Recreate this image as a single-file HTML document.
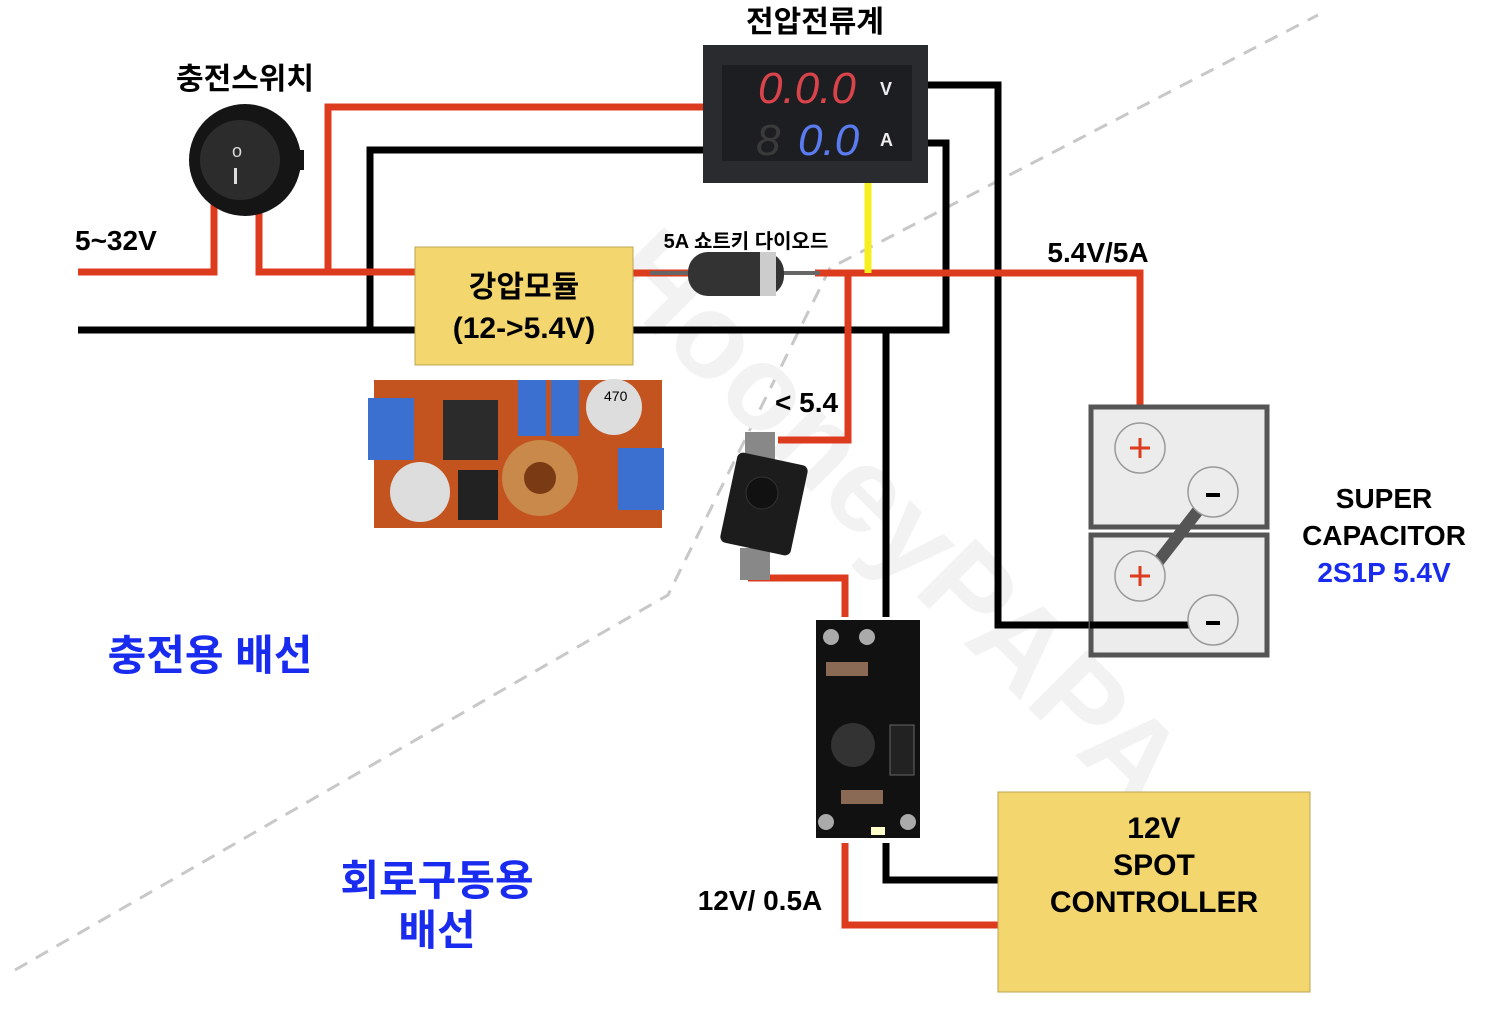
<!DOCTYPE html>
<html><head><meta charset="utf-8"><style>
html,body{margin:0;padding:0;background:#fff;}
svg{display:block;}
text{font-family:"Liberation Sans","Noto Sans CJK KR",sans-serif;font-weight:bold;}
</style></head><body>
<svg width="1500" height="1009" viewBox="0 0 1500 1009" xmlns="http://www.w3.org/2000/svg">
<!-- dashed guide -->
<polyline points="15,970 668,595 830,268 1318,15" fill="none" stroke="#c8c8c8" stroke-width="3" stroke-dasharray="14,10"/>
<!-- watermark -->
<text x="600" y="280" font-size="120" fill="#f2f2f2" transform="rotate(45 600 280)" style="font-weight:bold">HooneyPAPA</text>

<!-- black wires -->
<g stroke="#000" stroke-width="7" fill="none">
<polyline points="78,330 946,330 946,143 925,143"/>
<polyline points="370,330 370,150 705,150"/>
<polyline points="925,85 998,85 998,625 1190,625"/>
<polyline points="886,330 886,617"/>
<polyline points="886,843 886,880 998,880"/>
</g>
<!-- red wires -->
<g stroke="#dc3b1e" stroke-width="7" fill="none">
<polyline points="78,272 214,272 214,192"/>
<polyline points="259,192 259,272 415,272"/>
<polyline points="328,272 328,107 705,107"/>
<polyline points="633,273 690,273"/>
<polyline points="815,273 1140,273 1140,425"/>
<polyline points="848,273 848,440 778,440"/>
<polyline points="748,578 845,578 845,617"/>
<polyline points="845,843 845,925 998,925"/>
</g>
<line x1="868" y1="183" x2="868" y2="273" stroke="#f5ef1e" stroke-width="7"/>

<!-- meter -->
<rect x="703" y="45" width="225" height="138" fill="#2a2b2f"/>
<rect x="722" y="65" width="190" height="96" fill="#1d1e22"/>
<text x="758" y="103" font-size="44" fill="#d9434a" style="font-weight:normal;font-style:italic">0.0.0</text>
<text x="756" y="155" font-size="44" fill="#3a3a3a" style="font-weight:normal;font-style:italic">8</text>
<text x="798" y="155" font-size="44" fill="#5a7cf0" style="font-weight:normal;font-style:italic">0.0</text>
<text x="880" y="95" font-size="18" fill="#eee">V</text>
<text x="880" y="146" font-size="18" fill="#eee">A</text>
<text x="815" y="32" font-size="30" fill="#000" text-anchor="middle">전압전류계</text>

<!-- switch -->
<circle cx="245" cy="160" r="56" fill="#151515"/>
<rect x="290" y="150" width="14" height="20" fill="#151515"/>
<circle cx="240" cy="160" r="40" fill="#2c2c2c"/>
<text x="237" y="157" font-size="18" fill="#ddd" text-anchor="middle" style="font-weight:normal">o</text>
<rect x="234" y="168" width="3" height="16" fill="#ddd"/>
<text x="245" y="89" font-size="30" fill="#000" text-anchor="middle">충전스위치</text>
<text x="75" y="250" font-size="28" fill="#000">5~32V</text>

<!-- buck module -->
<rect x="415" y="247" width="218" height="118" fill="#f3d76e" stroke="#bba555" stroke-width="1"/>
<text x="524" y="297" font-size="30" fill="#000" text-anchor="middle">강압모듈</text>
<text x="524" y="338" font-size="30" fill="#000" text-anchor="middle">(12-&gt;5.4V)</text>

<!-- buck pcb -->
<rect x="374" y="380" width="288" height="148" fill="#c4541f"/>
<rect x="368" y="398" width="46" height="62" fill="#3b6fd0"/>
<rect x="618" y="448" width="46" height="62" fill="#3b6fd0"/>
<rect x="443" y="400" width="55" height="60" fill="#2b2b2b"/>
<rect x="518" y="380" width="28" height="56" fill="#3b6fd0"/>
<rect x="551" y="380" width="28" height="56" fill="#3b6fd0"/>
<circle cx="614" cy="407" r="28" fill="#ddd"/>
<text x="604" y="401" font-size="14" fill="#000" style="font-weight:normal">470</text>
<circle cx="420" cy="492" r="30" fill="#ddd"/>
<circle cx="540" cy="478" r="38" fill="#c9894a"/>
<circle cx="540" cy="478" r="16" fill="#7a3a14"/>
<rect x="458" y="470" width="40" height="50" fill="#222"/>

<!-- diode -->
<line x1="650" y1="273" x2="820" y2="273" stroke="#666" stroke-width="4"/>
<rect x="688" y="252" width="96" height="44" rx="20" fill="#333"/>
<rect x="760" y="252" width="16" height="44" fill="#ccc"/>
<text x="746" y="248" font-size="20" fill="#000" text-anchor="middle">5A 쇼트키 다이오드</text>
<text x="1098" y="262" font-size="28" fill="#000" text-anchor="middle">5.4V/5A</text>

<!-- push button -->
<rect x="745" y="432" width="30" height="30" fill="#888"/>
<rect x="740" y="548" width="30" height="32" fill="#888"/>
<rect x="728" y="458" width="72" height="92" rx="6" fill="#1c1c1c" transform="rotate(12 764 504)"/>
<circle cx="762" cy="493" r="16" fill="#111" stroke="#333"/>
<text x="775" y="412" font-size="28" fill="#000">&lt; 5.4</text>

<!-- boost pcb -->
<rect x="816" y="620" width="104" height="218" fill="#111"/>
<circle cx="831" cy="637" r="8" fill="#aaa"/><circle cx="867" cy="637" r="8" fill="#aaa"/>
<circle cx="826" cy="822" r="8" fill="#aaa"/><circle cx="908" cy="822" r="8" fill="#aaa"/>
<rect x="826" y="662" width="42" height="14" fill="#8a6a55"/>
<rect x="841" y="790" width="42" height="14" fill="#8a6a55"/>
<circle cx="853" cy="745" r="22" fill="#333"/>
<rect x="890" y="725" width="24" height="50" fill="#222" stroke="#666"/>
<rect x="871" y="827" width="14" height="8" fill="#ffffcc"/>

<text x="760" y="910" font-size="28" fill="#000" text-anchor="middle">12V/ 0.5A</text>

<!-- supercap -->
<rect x="1091" y="407" width="176" height="120" fill="#ececec" stroke="#555" stroke-width="5"/>
<rect x="1091" y="535" width="176" height="120" fill="#ececec" stroke="#555" stroke-width="5"/>
<line x1="1200" y1="508" x2="1158" y2="562" stroke="#555" stroke-width="12"/>
<line x1="1090" y1="625" x2="1190" y2="625" stroke="#000" stroke-width="7"/>
<g fill="#ececec" stroke="#999" stroke-width="1.5">
<circle cx="1140" cy="448" r="25"/><circle cx="1213" cy="492" r="25"/>
<circle cx="1140" cy="576" r="25"/><circle cx="1213" cy="620" r="25"/>
</g>
<g stroke="#dc3b1e" stroke-width="3"><line x1="1130" y1="448" x2="1150" y2="448"/><line x1="1140" y1="438" x2="1140" y2="458"/>
<line x1="1130" y1="576" x2="1150" y2="576"/><line x1="1140" y1="566" x2="1140" y2="586"/></g>
<g stroke="#000" stroke-width="4"><line x1="1206" y1="495" x2="1220" y2="495"/><line x1="1206" y1="623" x2="1220" y2="623"/></g>
<text x="1384" y="508" font-size="28" fill="#000" text-anchor="middle">SUPER</text>
<text x="1384" y="545" font-size="28" fill="#000" text-anchor="middle">CAPACITOR</text>
<text x="1384" y="582" font-size="28" fill="#1a2bf0" text-anchor="middle">2S1P 5.4V</text>

<!-- controller -->
<rect x="998" y="792" width="312" height="200" fill="#f3d76e" stroke="#bba555" stroke-width="1"/>
<text x="1154" y="838" font-size="30" fill="#000" text-anchor="middle">12V</text>
<text x="1154" y="875" font-size="30" fill="#000" text-anchor="middle">SPOT</text>
<text x="1154" y="912" font-size="30" fill="#000" text-anchor="middle">CONTROLLER</text>

<text x="210" y="670" font-size="42" fill="#1a2bf0" text-anchor="middle">충전용 배선</text>
<text x="437" y="895" font-size="42" fill="#1a2bf0" text-anchor="middle">회로구동용</text>
<text x="437" y="945" font-size="42" fill="#1a2bf0" text-anchor="middle">배선</text>
</svg>
</body></html>
